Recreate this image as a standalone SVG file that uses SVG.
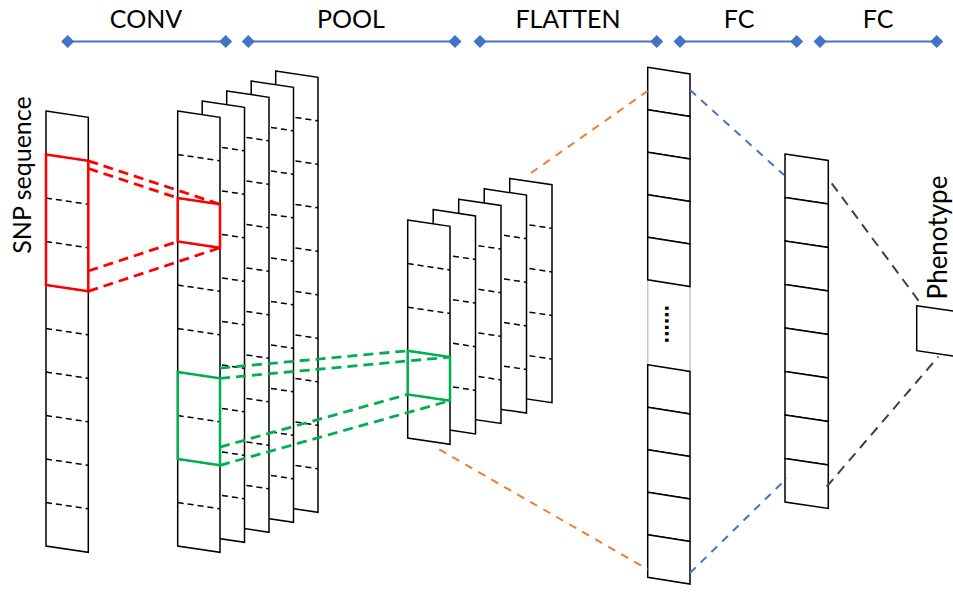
<svg xmlns="http://www.w3.org/2000/svg" xmlns:xlink="http://www.w3.org/1999/xlink" width="953" height="596" viewBox="0 0 953 596">
  <style>
    .lbl { font-family: Lato, "Liberation Sans", sans-serif; font-size: 25px; fill: #000; }
    .col { fill: #fff; stroke: #000; stroke-width: 1.5; stroke-linejoin: miter; }
    .div { stroke: #000; stroke-width: 1.5; stroke-dasharray: 6 4; fill: none; }
    .axis { stroke: #4472C4; stroke-width: 2; fill: none; }
    .red { stroke: #FF0000; stroke-width: 2.5; fill: none; }
    .redd { stroke: #FF0000; stroke-width: 2.8; stroke-dasharray: 10 6; fill: none; }
    .grn { stroke: #00B050; stroke-width: 2.5; fill: none; }
    .grnd { stroke: #00B050; stroke-width: 2.8; stroke-dasharray: 10 6; fill: none; }
    .org { stroke: #ED7D31; stroke-width: 2; stroke-dasharray: 8 7; fill: none; }
    .blu { stroke: #4472C4; stroke-width: 2; stroke-dasharray: 8 7; fill: none; }
    .gry { stroke: #404040; stroke-width: 2; stroke-dasharray: 10 7; fill: none; }
    .gap { stroke: #C8C8C8; stroke-width: 1.5; }
  </style>
  <defs>
    <marker id="dia" viewBox="-7 -7 14 14" markerWidth="14" markerHeight="14" markerUnits="userSpaceOnUse" refX="0" refY="0">
      <polygon points="0,-6.5 6.5,0 0,6.5 -6.5,0" fill="#4472C4"/>
    </marker>
    <!-- tall feature map: 10 cells -->
    <g id="col10">
      <polygon class="col" points="0,0 42.3,6.3 42.3,441.3 0,435"/>
      <path class="div" d="M0,43.5 L42.3,49.8 M0,87 L42.3,93.3 M0,130.5 L42.3,136.8 M0,174 L42.3,180.3 M0,217.5 L42.3,223.8 M0,261 L42.3,267.3 M0,304.5 L42.3,310.8 M0,348 L42.3,354.3 M0,391.5 L42.3,397.8"/>
    </g>
    <!-- pooled feature map: 5 cells -->
    <g id="col5">
      <polygon class="col" points="0,0 42.3,6.3 42.3,224.3 0,218"/>
      <path class="div" d="M0,43.6 L42.3,49.9 M0,87.2 L42.3,93.5 M0,130.8 L42.3,137.1 M0,174.4 L42.3,180.7"/>
    </g>
  </defs>

  <!-- stage axis -->
  <g id="stages">
    <line class="axis" x1="67.7" y1="41.5" x2="225.7" y2="41.5" marker-start="url(#dia)" marker-end="url(#dia)"/>
    <line class="axis" x1="248.3" y1="41.5" x2="455" y2="41.5" marker-start="url(#dia)" marker-end="url(#dia)"/>
    <line class="axis" x1="480" y1="41.5" x2="656.7" y2="41.5" marker-start="url(#dia)" marker-end="url(#dia)"/>
    <line class="axis" x1="680" y1="41.5" x2="796.7" y2="41.5" marker-start="url(#dia)" marker-end="url(#dia)"/>
    <line class="axis" x1="820" y1="41.5" x2="936.7" y2="41.5" marker-start="url(#dia)" marker-end="url(#dia)"/>
    <text class="lbl" x="146" y="28" text-anchor="middle">CONV</text>
    <text class="lbl" x="351" y="28" text-anchor="middle">POOL</text>
    <text class="lbl" x="568" y="28" text-anchor="middle">FLATTEN</text>
    <text class="lbl" x="739" y="28" text-anchor="middle">FC</text>
    <text class="lbl" x="878" y="28" text-anchor="middle">FC</text>
  </g>

  <!-- convolution feature maps, back layers -->
  <g id="conv-maps-back">
    <use xlink:href="#col10" transform="translate(275.7,71)"/>
    <use xlink:href="#col10" transform="translate(251.2,81)"/>
    <use xlink:href="#col10" transform="translate(226.7,91)"/>
    <use xlink:href="#col10" transform="translate(202.2,101)"/>
  </g>

  <!-- pooling feature maps -->
  <g id="pool-maps">
    <use xlink:href="#col5" transform="translate(509.7,178.4)"/>
    <use xlink:href="#col5" transform="translate(484.2,188.8)"/>
    <use xlink:href="#col5" transform="translate(458.7,199.2)"/>
    <use xlink:href="#col5" transform="translate(433.2,209.6)"/>
    <use xlink:href="#col5" transform="translate(407.7,220)"/>
    <polygon class="grn" points="407.7,350.8 450,357.1 450,400.7 407.7,394.4"/>
  </g>

  <!-- front convolution map -->
  <g id="conv-map-front">
    <use xlink:href="#col10" transform="translate(177.7,111)"/>
    <polygon class="red" points="177.7,198 220,204.3 220,247.8 177.7,241.5"/>
    <polygon class="grn" points="177.7,372 220,378.3 220,465.3 177.7,459"/>
  </g>

  <!-- input sequence -->
  <g id="snp-input">
    <use xlink:href="#col10" transform="translate(46,111)"/>
    <polygon class="red" points="46,154.5 88.3,160.8 88.3,291.3 46,285"/>
    <text class="lbl" transform="translate(31,175) rotate(-90)" text-anchor="middle">SNP sequence</text>
  </g>

  <!-- flattened vector -->
  <g id="flatten">
    <line class="gap" x1="647.7" y1="279.8" x2="647.7" y2="364.8"/>
    <line class="gap" x1="690" y1="286.5" x2="690" y2="371.5"/>
    <polygon class="col" points="647.7,67.3 690,74 690,116.5 647.7,109.8"/>
    <polygon class="col" points="647.7,109.8 690,116.5 690,159 647.7,152.3"/>
    <polygon class="col" points="647.7,152.3 690,159 690,201.5 647.7,194.8"/>
    <polygon class="col" points="647.7,194.8 690,201.5 690,244 647.7,237.3"/>
    <polygon class="col" points="647.7,237.3 690,244 690,286.5 647.7,279.8"/>
    <text transform="translate(664.5,305) rotate(90)" style="font-family:'Liberation Sans',sans-serif;font-size:23px;font-weight:bold;fill:#000">......</text>
    <polygon class="col" points="647.7,364.8 690,371.5 690,414 647.7,407.3"/>
    <polygon class="col" points="647.7,407.3 690,414 690,456.5 647.7,449.8"/>
    <polygon class="col" points="647.7,449.8 690,456.5 690,499 647.7,492.3"/>
    <polygon class="col" points="647.7,492.3 690,499 690,541.5 647.7,534.8"/>
    <polygon class="col" points="647.7,534.8 690,541.5 690,584 647.7,577.3"/>
  </g>

  <!-- fully connected layer -->
  <g id="fc">
    <polygon class="col" points="785,154 828.3,160.5 828.3,204 785,197.5"/>
    <polygon class="col" points="785,197.5 828.3,204 828.3,247.5 785,241"/>
    <polygon class="col" points="785,241 828.3,247.5 828.3,291 785,284.5"/>
    <polygon class="col" points="785,284.5 828.3,291 828.3,334.5 785,328"/>
    <polygon class="col" points="785,328 828.3,334.5 828.3,378 785,371.5"/>
    <polygon class="col" points="785,371.5 828.3,378 828.3,421.5 785,415"/>
    <polygon class="col" points="785,415 828.3,421.5 828.3,465 785,458.5"/>
    <polygon class="col" points="785,458.5 828.3,465 828.3,508.5 785,502"/>
  </g>

  <!-- output -->
  <g id="phenotype">
    <polygon class="col" points="916.7,305.7 958.7,311.7 958.7,356.7 916.7,350.7"/>
    <text class="lbl" transform="translate(947,237.5) rotate(-90)" text-anchor="middle" style="font-size:26px">Phenotype</text>
  </g>

  <!-- projection lines between layers -->
  <g id="connectors">
    <line class="redd" x1="88.3" y1="160.8" x2="220" y2="204.3"/>
    <line class="redd" x1="88.3" y1="168.5" x2="177.7" y2="198"/>
    <line class="redd" x1="88.3" y1="271" x2="177.7" y2="241.5"/>
    <line class="redd" x1="88.3" y1="291.3" x2="220" y2="247.8"/>
    <line class="grnd" x1="220" y1="378.3" x2="450" y2="357.1"/>
    <line class="grnd" x1="220" y1="368.1" x2="407.7" y2="350.8"/>
    <line class="grnd" x1="220" y1="447.1" x2="407.7" y2="394.4"/>
    <line class="grnd" x1="220" y1="465.3" x2="450" y2="400.7"/>
    <line class="org" x1="531" y1="173" x2="647.7" y2="91"/>
    <line class="org" x1="439.3" y1="449.3" x2="647.7" y2="569.5"/>
    <line class="blu" x1="690" y1="90" x2="784" y2="175"/>
    <line class="blu" x1="690" y1="573" x2="786.7" y2="478.3"/>
    <line class="gry" x1="831.7" y1="183.3" x2="921.7" y2="305"/>
    <line class="gry" x1="826.7" y1="486.7" x2="938.3" y2="356.7"/>
  </g>
</svg>
